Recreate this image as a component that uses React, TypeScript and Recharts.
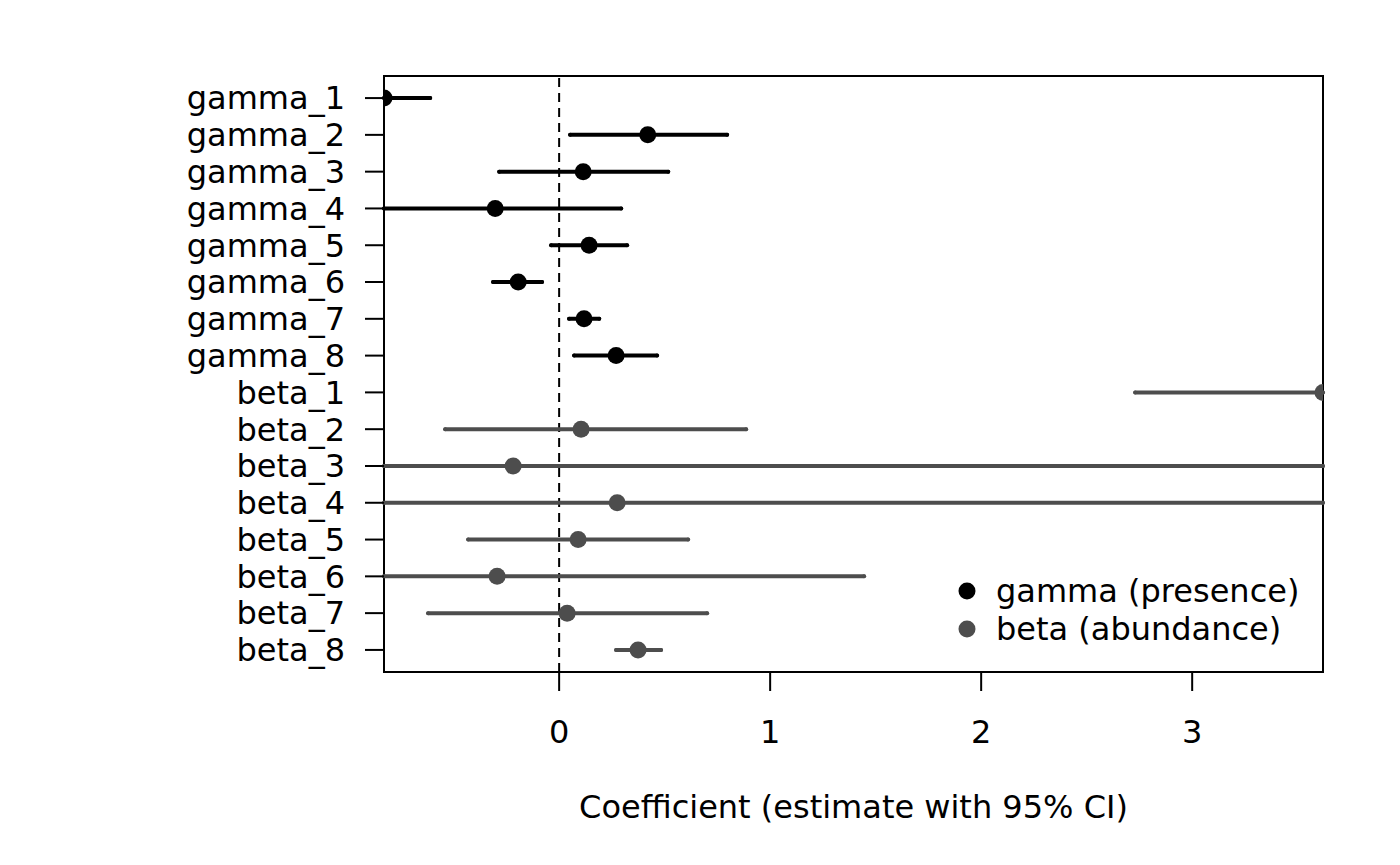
import React from "react";
import {
  ScatterChart,
  Scatter,
  ErrorBar,
  XAxis,
  YAxis,
  ReferenceLine,
  ReferenceArea,
} from "recharts";

// Row labels, top to bottom
const gammaLabels = ["gamma_1", "gamma_2", "gamma_3", "gamma_4", "gamma_5", "gamma_6", "gamma_7", "gamma_8"];
const betaLabels = ["beta_1", "beta_2", "beta_3", "beta_4", "beta_5", "beta_6", "beta_7", "beta_8"];

// gamma (presence) estimates and 95% CI
const gammaEst = [-0.83, 0.42, 0.114, -0.303, 0.142, -0.194, 0.118, 0.27];
const gammaLo = [-1.05, 0.052, -0.284, -0.9, -0.038, -0.313, 0.047, 0.071];
const gammaHi = [-0.611, 0.796, 0.517, 0.294, 0.322, -0.081, 0.19, 0.464];

// beta (abundance) estimates and 95% CI
const betaEst = [3.62, 0.104, -0.218, 0.275, 0.09, -0.294, 0.038, 0.374];
const betaLo = [2.73, -0.54, -4.5, -4.0, -0.431, -2.03, -0.621, 0.27];
const betaHi = [4.5, 0.886, 5.0, 4.6, 0.611, 1.445, 0.701, 0.483];

const xTicks = [0, 1, 2, 3];
const xDomain: [number, number] = [-0.83, 3.62];
const yDomain: [number, number] = [0.4, 16.6];

const allLabels = [...gammaLabels, ...betaLabels];
const rowTicks = allLabels.map((_, i) => i + 1);

const GAMMA_COLOR = "#000000";
const BETA_COLOR = "#4D4D4D";
const FONT = "'DejaVu Sans', sans-serif";
const FS = 32;

// intervals are cut at the plot edges, like R's clipping
const clampX = (v: number) => Math.min(Math.max(v, xDomain[0]), xDomain[1]);

function buildRows(labels: string[], est: number[], lo: number[], hi: number[], offset: number) {
  return labels.map((label, i) => ({
    label,
    row: offset + i + 1,
    est: est[i],
    err: [est[i] - clampX(lo[i]), clampX(hi[i]) - est[i]],
  }));
}

const gammaRows = buildRows(gammaLabels, gammaEst, gammaLo, gammaHi, 0);
const betaRows = buildRows(betaLabels, betaEst, betaLo, betaHi, gammaLabels.length);

// dots sitting on the plot edge get cut in half
const dot = (color: string) => (props: any) => {
  const { cx, cy, payload } = props;
  const r = 8.5;
  if (payload.est <= xDomain[0]) {
    return <path d={`M${cx},${cy - r} A${r},${r} 0 0 1 ${cx},${cy + r} Z`} fill={color} />;
  }
  if (payload.est >= xDomain[1]) {
    return <path d={`M${cx},${cy - r} A${r},${r} 0 0 0 ${cx},${cy + r} Z`} fill={color} />;
  }
  return <circle cx={cx} cy={cy} r={r} fill={color} />;
};

const legendItems = [
  { name: "gamma (presence)", color: GAMMA_COLOR },
  { name: "beta (abundance)", color: BETA_COLOR },
];

export default function App() {
  return (
    <div style={{ position: "absolute", left: 0, top: 0, width: 1400, height: 865, background: "#fff" }}>
      <ScatterChart
        width={1400}
        height={865}
        margin={{ top: 76, right: 77, bottom: 0, left: 0 }}
      >
        <XAxis
          type="number"
          dataKey="est"
          domain={xDomain}
          allowDataOverflow
          ticks={xTicks}
          axisLine={false}
          tickSize={19}
          tickMargin={29}
          tickLine={{ stroke: "#000", strokeWidth: 2 }}
          tick={{ fill: "#000", fontSize: FS, fontFamily: FONT }}
          height={193}
          label={{
            value: "Coefficient (estimate with 95% CI)",
            position: "insideBottom",
            offset: 47,
            fill: "#000",
            fontSize: FS,
            fontFamily: FONT,
          }}
        />
        <YAxis
          type="number"
          dataKey="row"
          domain={yDomain}
          allowDataOverflow
          reversed
          ticks={rowTicks}
          interval={0}
          tickFormatter={(v: number) => allLabels[v - 1] ?? ""}
          axisLine={false}
          tickSize={19}
          tickMargin={20}
          tickLine={{ stroke: "#000", strokeWidth: 2 }}
          tick={{ fill: "#000", fontSize: FS, fontFamily: FONT }}
          width={384}
        />
        <ReferenceLine x={0} stroke="#000" strokeWidth={2} strokeDasharray="9 6" />
        <Scatter
          name="gamma (presence)"
          data={gammaRows}
          fill={GAMMA_COLOR}
          shape={dot(GAMMA_COLOR)}
          isAnimationActive={false}
        >
          <ErrorBar
            dataKey="err"
            direction="x"
            width={0}
            stroke={GAMMA_COLOR}
            strokeWidth={4}
            strokeLinecap="round"
          />
        </Scatter>
        <Scatter
          name="beta (abundance)"
          data={betaRows}
          fill={BETA_COLOR}
          shape={dot(BETA_COLOR)}
          isAnimationActive={false}
        >
          <ErrorBar
            dataKey="err"
            direction="x"
            width={0}
            stroke={BETA_COLOR}
            strokeWidth={4}
            strokeLinecap="round"
          />
        </Scatter>
        <ReferenceArea
          x1={xDomain[0]}
          x2={xDomain[1]}
          y1={yDomain[0]}
          y2={yDomain[1]}
          fill="none"
          fillOpacity={0}
          stroke="#000"
          strokeWidth={2}
          ifOverflow="visible"
        />
      </ScatterChart>
      <div
        style={{
          position: "absolute",
          left: 955,
          top: 572,
          fontFamily: FONT,
          fontSize: FS,
          color: "#000",
          lineHeight: "38px",
        }}
      >
        {legendItems.map((item) => (
          <div key={item.name} style={{ display: "flex", alignItems: "center", height: 38 }}>
            <svg width={24} height={24} style={{ marginRight: 17 }}>
              <circle cx={12} cy={12} r={8.5} fill={item.color} />
            </svg>
            <span>{item.name}</span>
          </div>
        ))}
      </div>
    </div>
  );
}
